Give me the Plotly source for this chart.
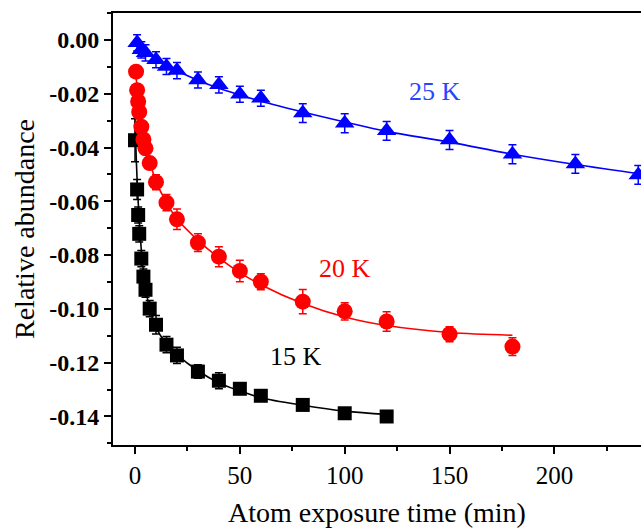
import plotly.graph_objects as go

# ---- measured data (time in min, relative abundance) ----
t_15K = [0, 1, 1.5, 2, 3, 4, 5, 7, 10, 15, 20, 30, 40, 50, 60, 80, 100, 120]
y_15K = [-0.0373, -0.0556, -0.0651, -0.0721, -0.0813, -0.0880, -0.0929, -0.0999,
         -0.1059, -0.1133, -0.1173, -0.1233, -0.1267, -0.1297, -0.1323, -0.1357,
         -0.1388, -0.1400]
e_15K = [0.0080, 0.0037, 0.0030, 0.0030, 0.0030, 0.0028, 0.0028, 0.0030,
         0.0034, 0.0030, 0.0030, 0.0025, 0.0030, 0.0015, 0.0015, 0.0015,
         0.0012, 0.0012]

t_20K = [0.5, 1, 1.5, 2, 3, 4, 5, 7, 10, 15, 20, 30, 40, 50, 60, 80, 100, 120, 150, 180]
y_20K = [-0.0118, -0.0187, -0.0229, -0.0268, -0.0323, -0.0370, -0.0403, -0.0458,
         -0.0529, -0.0605, -0.0667, -0.0754, -0.0806, -0.0859, -0.0899, -0.0973,
         -0.1009, -0.1047, -0.1094, -0.1140]
e_20K = [0.0015, 0.0015, 0.0015, 0.0015, 0.0018, 0.0018, 0.0020, 0.0022,
         0.0028, 0.0030, 0.0038, 0.0033, 0.0037, 0.0040, 0.0030, 0.0045,
         0.0032, 0.0036, 0.0028, 0.0033]

t_25K = [1, 3, 5, 10, 15, 20, 30, 40, 50, 60, 80, 100, 120, 150, 180, 210, 240]
y_25K = [-0.0011, -0.0037, -0.0048, -0.0074, -0.0099, -0.0114, -0.0149, -0.0167,
         -0.0202, -0.0217, -0.0272, -0.0310, -0.0338, -0.0372, -0.0425, -0.0461,
         -0.0502]
e_25K = [0.0030, 0.0030, 0.0030, 0.0030, 0.0030, 0.0030, 0.0030, 0.0030,
         0.0030, 0.0030, 0.0035, 0.0035, 0.0035, 0.0035, 0.0035, 0.0035,
         0.0035]

# ---- fitted curves ----
fit_t_15K = [0, 0.5, 1, 2, 3, 4, 5, 7, 10, 15, 20, 30, 40, 50, 60, 80, 100, 120]
fit_y_15K = [-0.030, -0.042, -0.052, -0.067, -0.078, -0.086, -0.092, -0.100,
             -0.107, -0.113, -0.117, -0.123, -0.1275, -0.1305, -0.1330, -0.1358,
             -0.1380, -0.1392]

fit_t_20K = [0, 0.5, 1, 2, 3, 4, 5, 7, 10, 15, 20, 30, 40, 50, 60, 80, 100, 120, 150, 180]
fit_y_20K = [-0.011, -0.014, -0.0175, -0.0235, -0.029, -0.034, -0.038, -0.045,
             -0.0525, -0.0605, -0.0665, -0.0745, -0.081, -0.0865, -0.091, -0.098,
             -0.103, -0.1062, -0.1088, -0.1098]

fit_t_25K = [0, 5, 10, 20, 30, 40, 50, 60, 80, 100, 120, 150, 180, 210, 241.3]
fit_y_25K = [-0.0005, -0.004, -0.0068, -0.0115, -0.0150, -0.0180, -0.0205, -0.0228,
             -0.0268, -0.0305, -0.0340, -0.0380, -0.0425, -0.0463, -0.0498]

x_ticks = [0, 50, 100, 150, 200]
y_ticks = [0.00, -0.02, -0.04, -0.06, -0.08, -0.10, -0.12, -0.14]
y_tick_text = ["0.00", "-0.02", "-0.04", "-0.06", "-0.08", "-0.10", "-0.12", "-0.14"]

BLACK, RED, BLUE = "#000000", "#ff0000", "#0000ff"
SERIF = "Liberation Serif"

fig = go.Figure()

for ft, fy, col in [(fit_t_15K, fit_y_15K, BLACK),
                    (fit_t_20K, fit_y_20K, RED),
                    (fit_t_25K, fit_y_25K, BLUE)]:
    fig.add_trace(go.Scatter(x=ft, y=fy, mode="lines",
                             line=dict(color=col, width=1.6, shape="spline"),
                             showlegend=False, hoverinfo="skip"))

for t, y, e, col, sym, size in [
        (t_15K, y_15K, e_15K, BLACK, "square", 14),
        (t_20K, y_20K, e_20K, RED, "circle", 16),
        (t_25K, y_25K, e_25K, BLUE, "triangle-up", 17)]:
    fig.add_trace(go.Scatter(
        x=t, y=y, mode="markers",
        marker=dict(color=col, symbol=sym, size=size, line=dict(width=0)),
        error_y=dict(type="data", array=e, visible=True, color=col,
                     thickness=1.5, width=4),
        showlegend=False))

labels = [(77, -0.1178, "15 K", BLACK),
          (100.3, -0.0851, "20 K", RED),
          (143.2, -0.0190, "25 K", "#2846ff")]
for lx, ly, txt, col in labels:
    fig.add_annotation(x=lx, y=ly, text=txt, showarrow=False,
                       font=dict(family=SERIF, size=26, color=col))

fig.update_layout(
    width=641, height=528,
    margin=dict(l=113, r=0, t=13, b=83),
    paper_bgcolor="white", plot_bgcolor="white",
    font=dict(family=SERIF, color="black"),
)

fig.update_xaxes(
    range=[-10.5, 241.3], showgrid=False, zeroline=False,
    showline=True, linecolor="black", linewidth=2, mirror=True,
    ticks="outside", ticklen=7, tickwidth=2, tickcolor="black",
    tickvals=x_ticks, ticktext=[str(v) for v in x_ticks],
    tickfont=dict(family=SERIF, size=25, color="black"),
    minor=dict(ticks="outside", ticklen=4, tickwidth=2, tickcolor="black",
               tickvals=[25, 75, 125, 175, 225]),
    title=dict(text="Atom exposure time (min)", standoff=16,
               font=dict(family=SERIF, size=28, color="black")),
)

fig.update_yaxes(
    range=[-0.1506, 0.0100], showgrid=False, zeroline=False,
    showline=True, linecolor="black", linewidth=2, mirror=False,
    ticks="outside", ticklen=7, tickwidth=2, tickcolor="black",
    tickvals=y_ticks, ticktext=["<b>%s</b>" % s for s in y_tick_text],
    tickfont=dict(family=SERIF, size=24, color="black"),
    minor=dict(ticks="outside", ticklen=4, tickwidth=2, tickcolor="black",
               tickvals=[0.01, -0.01, -0.03, -0.05, -0.07, -0.09, -0.11,
                         -0.13, -0.15]),
    title=dict(text="Relative abundance", standoff=6,
               font=dict(family=SERIF, size=28, color="black")),
)

fig.write_html("out.html")
